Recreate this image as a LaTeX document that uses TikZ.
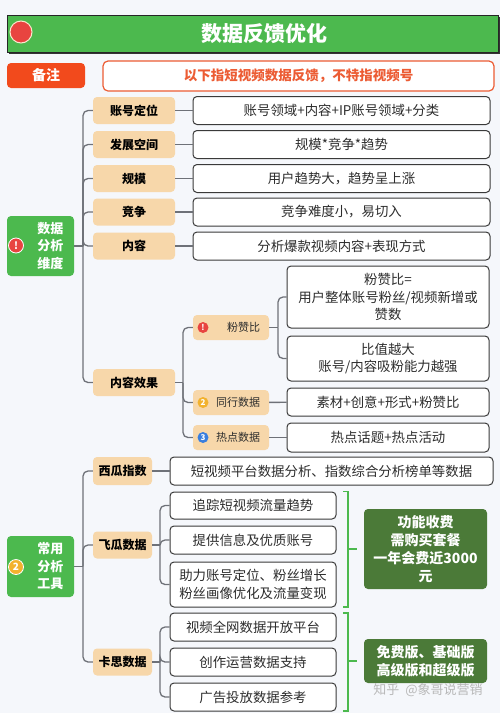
\documentclass[tikz,border=0pt]{standalone}
\usepackage{fontspec}
\setmainfont{Noto Sans CJK SC}
\usepackage{xcolor}
\usepackage{tikz}
\usetikzlibrary{shadows}
\definecolor{fbbg}{RGB}{245,247,251}
\definecolor{fbgreen}{RGB}{76,185,78}
\definecolor{fbdark}{RGB}{75,122,56}
\definecolor{fbred}{RGB}{232,68,64}
\definecolor{fborange}{RGB}{242,74,28}
\definecolor{fbnote}{RGB}{236,92,52}
\definecolor{fbtan}{RGB}{247,215,170}
\definecolor{fbgray}{RGB}{110,113,120}
\definecolor{fbframe}{RGB}{58,58,58}
\definecolor{fbtext}{RGB}{45,45,45}
\definecolor{fbyellow}{RGB}{242,178,46}
\definecolor{fbblue}{RGB}{58,126,222}
\tikzset{
  fbhead/.style={draw=black!85, line width=1pt, fill=fbgreen, minimum width=491pt,
    minimum height=37pt, text=white, font=\fontsize{21}{24}\selectfont\bfseries,
    drop shadow={shadow xshift=1.5pt, shadow yshift=-2pt, fill=black!80, opacity=1}},
  fbtag/.style={fill=fborange, rounded corners=4pt, minimum width=78pt, minimum height=25pt,
    text=white, font=\fontsize{14}{16}\selectfont\bfseries},
  fbremark/.style={draw=fbnote, line width=1.2pt, fill=white, rounded corners=5pt,
    minimum width=391pt, minimum height=30pt, text=fbnote,
    font=\fontsize{13.5}{16}\selectfont\bfseries},
  fbgroup/.style={fill=fbgreen, rounded corners=4pt, minimum width=67pt, minimum height=60pt,
    text=white, align=right, text width=46pt, font=\fontsize{13}{17.5}\selectfont\bfseries},
  fbkey/.style={fill=fbtan, rounded corners=4pt, minimum width=82pt, minimum height=27pt,
    text=black, font=\fontsize{12}{14}\selectfont\bfseries},
  fbsub/.style={fill=fbtan, rounded corners=4pt, minimum width=76pt, minimum height=25pt,
    text width=58pt, align=right, text=fbtext, font=\fontsize{11}{13}\selectfont},
  fbinfo/.style={draw=fbframe, line width=1pt, fill=white, rounded corners=4pt,
    minimum height=28pt, align=center, text=fbtext, font=\fontsize{13.4}{17.5}\selectfont},
  fbpay/.style={fill=fbdark, rounded corners=4pt, minimum width=123pt, text=white,
    align=center, font=\fontsize{14}{18}\selectfont\bfseries},
  fbdot/.style={circle, inner sep=0pt, minimum size=11pt, text=white,
    font=\fontsize{8}{8}\selectfont\bfseries},
  fblink/.style={draw=fbgray, line width=1.3pt, rounded corners=5pt},
  fbbrace/.style={draw=fbgreen, line width=1.5pt},
  fbmark/.style={text=black!28, font=\fontsize{13}{15}\selectfont}
}
\begin{document}
\begin{tikzpicture}[x=1pt,y=-1pt]
  \useasboundingbox (0,0) rectangle (500,713);
  \fill[fbbg] (0,0) rectangle (500,713);
  \node[fbhead] (hd) at (252.5,33.5) {\hspace*{24pt}数据反馈优化};
  \node[fbdot, minimum size=22pt, fill=fbred, draw=fbtan!60, line width=1pt] (hdot) at (21,32) {};
  \node[fbtag] (tag) at (46,75.5) {备注};
  \node[fbremark] (rmk) at (298.5,76) {以下指短视频数据反馈，不特指视频号};

  \node[fbgroup] (gA) at (40.5,246) {数据\\分析\\维度};
  \node[fbdot, minimum size=15pt, fill=fbred, draw=white, line width=0.8pt,
    font=\fontsize{10}{10}\selectfont\bfseries] (gAdot) at (16,245.5) {!};
  \node[fbkey] (kA) at (134,110.5) {账号定位};
  \node[fbkey] (kB) at (134,144.5) {发展空间};
  \node[fbkey] (kC) at (134,178.5) {规模};
  \node[fbkey] (kD) at (134,212) {竞争};
  \node[fbkey] (kE) at (134,246) {内容};
  \node[fbkey] (kF) at (134,382.5) {内容效果};
  \node[fbinfo, minimum width=297pt] (iA) at (341.5,110.5) {账号领域+内容+IP账号领域+分类};
  \node[fbinfo, minimum width=297pt] (iB) at (341.5,144.5) {规模*竞争*趋势};
  \node[fbinfo, minimum width=297pt] (iC) at (341.5,178.5) {用户趋势大，趋势呈上涨};
  \node[fbinfo, minimum width=297pt] (iD) at (341.5,212) {竞争难度小，易切入};
  \node[fbinfo, minimum width=297pt] (iE) at (341.5,246) {分析爆款视频内容+表现方式};
  \node[fbsub] (sA) at (231,327.5) {粉赞比};
  \node[fbsub] (sB) at (231,402.5) {同行数据};
  \node[fbsub] (sC) at (231,437.5) {热点数据};
  \node[fbdot, fill=fbred] (sAdot) at (203,327.5) {!};
  \node[fbdot, fill=fbyellow] (sBdot) at (203,402.5) {2};
  \node[fbdot, fill=fbblue] (sCdot) at (203,437.5) {3};
  \node[fbinfo, minimum width=202pt, minimum height=62pt] (pA) at (388,297) {粉赞比=\\用户整体账号粉丝/视频新增或\\赞数};
  \node[fbinfo, minimum width=202pt, minimum height=45pt] (pB) at (388,358.5) {比值越大\\账号/内容吸粉能力越强};
  \node[fbinfo, minimum width=202pt] (pC) at (388,402) {素材+创意+形式+粉赞比};
  \node[fbinfo, minimum width=202pt, minimum height=29pt] (pD) at (388,437.5) {热点话题+热点活动};
  \coordinate (jA) at (83,246);
  \coordinate (jB) at (183,382.5);
  \coordinate (jC) at (278,327.5);
  \draw[fblink] (gA) -- (jA);
  \draw[fblink] (jA) |- (kA);
  \draw[fblink] (jA) |- (kB);
  \draw[fblink] (jA) |- (kC);
  \draw[fblink] (jA) |- (kD);
  \draw[fblink] (jA) |- (kE);
  \draw[fblink] (jA) |- (kF);
  \draw[fblink] (kA) -- (iA);
  \draw[fblink] (kB) -- (iB);
  \draw[fblink] (kC) -- (iC);
  \draw[fblink] (kD) -- (iD);
  \draw[fblink] (kE) -- (iE);
  \draw[fblink] (kF) -- (jB);
  \draw[fblink] (jB) |- (sA);
  \draw[fblink] (jB) |- (sB);
  \draw[fblink] (jB) |- (sC);
  \draw[fblink] (sA) -- (jC);
  \draw[fblink] (jC) |- (pA);
  \draw[fblink] (jC) |- (pB);
  \draw[fblink] (sB) -- (pC);
  \draw[fblink] (sC) -- (pD);

  \node[fbgroup, minimum height=61pt] (gB) at (40.5,566.5) {常用\\分析\\工具};
  \node[fbdot, minimum size=15pt, fill=fbyellow, draw=white, line width=0.8pt,
    font=\fontsize{10}{10}\selectfont\bfseries] (gBdot) at (16,567) {2};
  \node[fbkey, minimum width=59pt, minimum height=28pt] (tA) at (122.5,471) {西瓜指数};
  \node[fbkey, minimum width=59pt] (tB) at (122.5,545) {飞瓜数据};
  \node[fbkey, minimum width=59pt] (tC) at (122.5,662) {卡思数据};
  \node[fbinfo, minimum width=323pt] (xA) at (331.5,471) {短视频平台数据分析、指数综合分析榜单等数据};
  \node[fbinfo, minimum width=166pt, minimum height=27pt] (fA) at (253,505.5) {追踪短视频流量趋势};
  \node[fbinfo, minimum width=166pt] (fB) at (253,540) {提供信息及优质账号};
  \node[fbinfo, minimum width=166pt, minimum height=45pt] (fC) at (253,584.5) {助力账号定位、粉丝增长\\粉丝画像优化及流量变现};
  \node[fbinfo, minimum width=166pt] (cA) at (253,627) {视频全网数据开放平台};
  \node[fbinfo, minimum width=166pt] (cB) at (253,662) {创作运营数据支持};
  \node[fbinfo, minimum width=166pt] (cC) at (253,697) {广告投放数据参考};
  \node[fbpay, minimum height=80pt] (yA) at (425.5,549) {功能收费\\需购买套餐\\一年会费近3000\\元};
  \node[fbpay, minimum height=44pt] (yB) at (425.5,661) {免费版、基础版\\高级版和超级版};
  \coordinate (jD) at (83,566.5);
  \coordinate (jE) at (160,545);
  \coordinate (jF) at (160,662);
  \coordinate (bA) at (357,549);
  \coordinate (bB) at (357,661);
  \draw[fblink] (gB) -- (jD);
  \draw[fblink] (jD) |- (tA);
  \draw[fblink] (jD) |- (tB);
  \draw[fblink] (jD) |- (tC);
  \draw[fblink] (tA) -- (xA);
  \draw[fblink] (tB) -- (jE);
  \draw[fblink] (jE) |- (fA);
  \draw[fblink] (jE) |- (fB);
  \draw[fblink] (jE) |- (fC);
  \draw[fblink] (tC) -- (jF);
  \draw[fblink] (jF) |- (cA);
  \draw[fblink] (jF) |- (cB);
  \draw[fblink] (jF) |- (cC);
  \draw[fbbrace] (343,491.5) -- (348,491.5) -- (348,607) -- (343,607);
  \draw[fbbrace] (348,549) -- (bA);
  \draw[fbbrace] (343,613) -- (348,613) -- (348,711) -- (343,711);
  \draw[fbbrace] (348,661) -- (bB);
  \node[fbmark] (wm) at (428,690) {知乎 \ @象哥说营销};
\end{tikzpicture}
\end{document}
